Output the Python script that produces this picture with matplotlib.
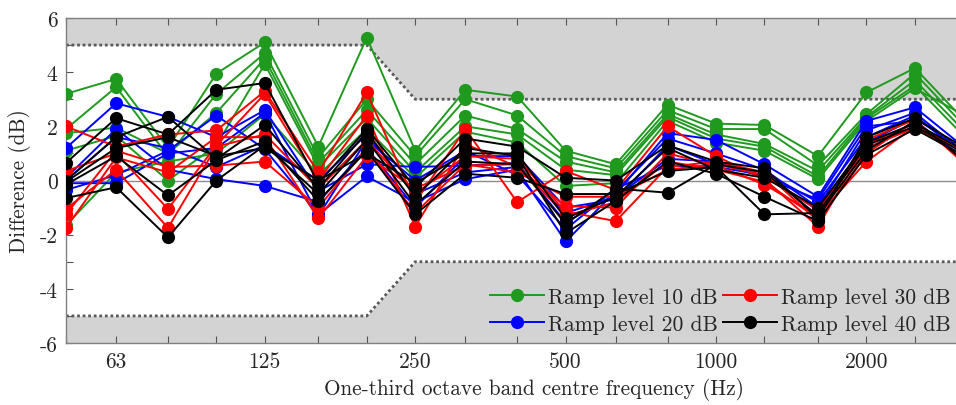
import numpy as np
import matplotlib
matplotlib.use("Agg")
import matplotlib.pyplot as plt

plt.rcParams["font.family"] = ["cmr10", "DejaVu Serif"]
plt.rcParams["mathtext.fontset"] = "cm"
plt.rcParams["axes.unicode_minus"] = False
plt.rcParams["axes.formatter.use_mathtext"] = True

# One-third octave band centre frequencies (Hz)
freqs = [50, 63, 80, 100, 125, 160, 200, 250, 315, 400, 500, 630, 800,
         1000, 1250, 1600, 2000, 2500, 3150]
tick_labels = {63: "63", 125: "125", 250: "250", 500: "500",
               1000: "1000", 2000: "2000"}

# Tolerance limits (dB)
limit_freqs = [50, 200, 250, 3150]
upper_limit = [5, 5, 3, 3]
lower_limit = [-5, -5, -3, -3]

# Level differences per repetition, ramp level 10 dB
ramp10 = [
    [3.2, 3.75, 1.2, 3.95, 5.1, 1.25, 5.28, 1.1, 3.35, 3.1, 1.1, 0.6, 2.8, 2.1, 2.05, 0.9, 3.25, 4.15, 2.2],
    [1.9, 3.45, 0.9, 3.2, 4.7, 0.85, 3.0, 0.9, 3.0, 2.4, 0.9, 0.45, 2.6, 1.9, 1.9, 0.55, 2.45, 3.95, 2.0],
    [1.75, 1.95, 1.0, 2.5, 4.5, 0.65, 2.6, 0.6, 2.4, 1.9, 0.7, 0.3, 2.45, 1.7, 1.35, 0.35, 2.35, 3.7, 1.8],
    [1.1, 1.65, 0.0, 1.3, 4.3, 0.5, 2.3, 0.3, 2.0, 1.7, 0.4, 0.2, 2.35, 1.55, 1.25, 0.15, 2.3, 3.5, 1.6],
    [-1.65, 0.3, 0.7, 1.0, 2.45, 0.2, 1.9, 0.1, 1.8, 1.4, -0.2, -0.1, 2.2, 1.4, 1.1, 0.05, 2.2, 3.4, 2.4],
]

# Ramp level 20 dB
ramp20 = [
    [1.2, 2.85, 2.35, 1.6, 2.6, -0.4, 0.6, 0.5, 0.55, 0.65, -1.55, -0.5, 1.75, 1.5, 0.6, -0.6, 2.2, 2.7, 1.2],
    [-0.35, 0.2, 1.1, 2.4, 1.15, -1.25, 0.15, -0.8, 0.05, 0.4, -2.25, -0.4, 1.55, 1.0, 0.4, -1.0, 1.85, 2.5, 1.0],
    [0.1, 1.9, 0.4, 0.05, -0.2, -0.8, 1.2, -1.0, 0.9, 0.9, -1.0, -0.7, 1.3, 0.6, 0.3, -0.8, 1.6, 2.4, 0.9],
    [-0.1, -0.1, 1.0, 1.2, 2.5, -1.3, 1.5, 0.0, 1.1, 0.2, -1.8, -0.3, 0.55, 0.5, 0.2, -1.1, 1.4, 2.3, 1.1],
    [0.0, 1.6, 1.2, 0.5, 1.3, 0.0, 1.7, -0.5, 0.3, 0.5, -1.2, -0.6, 0.8, 0.7, 0.1, -0.7, 2.0, 2.2, 0.8],
]

# Ramp level 30 dB
ramp30 = [
    [2.0, 1.25, 1.7, 1.85, 3.3, 0.3, 3.25, -0.8, 1.9, -0.8, 0.35, -0.35, 2.0, 0.9, 0.05, -1.7, 1.35, 2.1, 1.0],
    [0.35, 1.0, -1.05, 1.3, 3.2, 0.0, 2.4, -1.7, 1.35, 0.5, -0.95, -1.0, 1.0, 0.55, -0.15, -1.3, 0.7, 2.0, 0.8],
    [-1.05, 0.4, -1.75, 1.25, 1.7, -0.3, 1.5, -0.5, 0.9, 0.8, -1.15, -1.5, 0.5, 0.7, 0.3, -1.5, 1.0, 2.2, 0.7],
    [-1.25, 1.1, 0.5, 0.55, 0.7, -1.0, 1.2, -1.2, 0.6, 0.3, -0.6, -0.6, 0.4, 0.6, 0.2, -1.1, 1.2, 1.95, 1.1],
    [-1.75, 0.85, 0.3, 1.6, 1.6, -1.4, 0.9, -0.3, 0.55, 0.6, -1.3, -0.8, 0.7, 0.4, -0.05, -1.4, 1.5, 2.25, 0.6],
]

# Ramp level 40 dB
ramp40 = [
    [0.65, 2.3, 1.7, 3.35, 3.6, -0.1, 1.9, -0.25, 1.55, 1.25, 0.1, 0.0, 1.3, 0.7, 0.45, -1.4, 1.6, 2.3, 1.2],
    [0.0, 1.6, 2.35, 0.8, 2.05, -0.3, 1.8, -0.6, 1.2, 0.9, -1.95, -0.75, 0.7, 0.25, -0.6, -1.5, 0.95, 1.9, 0.9],
    [-0.15, 0.9, -0.55, 0.75, 1.45, -0.75, 1.1, -1.25, 0.25, 0.1, -0.5, -0.5, 0.35, 0.5, -1.25, -1.2, 1.3, 2.0, 1.0],
    [-0.65, -0.25, -2.1, 0.0, 1.3, -0.5, 1.5, -0.9, 0.7, 0.6, -1.6, -0.3, -0.45, 0.6, 0.3, -1.3, 1.1, 2.2, 0.7],
    [-0.05, 1.2, 1.6, 0.9, 1.2, 0.0, 1.0, -0.1, 1.0, 1.0, -1.4, -0.6, 1.2, 0.4, 0.1, -1.0, 1.4, 2.1, 1.1],
]

series = [
    ("Ramp level 10 dB", ramp10, "#1f9a1f"),
    ("Ramp level 20 dB", ramp20, "#0000ff"),
    ("Ramp level 30 dB", ramp30, "#ff0000"),
    ("Ramp level 40 dB", ramp40, "#000000"),
]

W, H = 956, 406
fig = plt.figure(figsize=(W / 100, H / 100), dpi=100)
ax = fig.add_axes([66 / W, 1 - 344 / H, 899 / W, 325 / H])

fill_col = "#d3d3d3"
ax.fill_between(limit_freqs, upper_limit, 6, color=fill_col, lw=0, zorder=0)
ax.fill_between(limit_freqs, -6, lower_limit, color=fill_col, lw=0, zorder=0)
ax.plot(limit_freqs, upper_limit, ls=(0, (1, 1)), color="#5a5a5a", lw=2, zorder=1)
ax.plot(limit_freqs, lower_limit, ls=(0, (1, 1)), color="#5a5a5a", lw=2, zorder=1)
ax.axhline(0, color="#8c8c8c", lw=1.0, zorder=1)

handles = []
for label, runs, col in series:
    for i, run in enumerate(runs):
        ln, = ax.plot(freqs, run, "-o", color=col, lw=1.4, ms=9.5,
                      markeredgewidth=0, zorder=3,
                      label=label if i == 0 else None)
        if i == 0:
            handles.append(ln)

ax.set_xscale("log")
ax.set_xlim(50, 3150)
ax.set_ylim(-6, 6)
ax.set_xticks(freqs)
ax.set_xticklabels([tick_labels.get(f, "") for f in freqs])
ax.xaxis.set_minor_locator(matplotlib.ticker.NullLocator())
ax.set_yticks(np.arange(-6, 7, 1))
ax.set_yticklabels([str(v) if v % 2 == 0 else "" for v in range(-6, 7)])

tick_col = "#262626"
ax.tick_params(axis="both", direction="in", length=5, width=0.8,
               colors="#555555", labelcolor=tick_col, labelsize=15.5,
               top=True, right=True, pad=6)
for sp in ax.spines.values():
    sp.set_color("#808080")
    sp.set_linewidth(1.0)

ax.set_xlabel("One-third octave band centre frequency (Hz)", fontsize=15.3,
              color=tick_col)
ax.xaxis.set_label_coords((534 - 66) / 899, -0.105)
ax.set_ylabel("Difference (dB)", fontsize=15.3, color=tick_col, labelpad=6)

leg = ax.legend(handles=handles, ncol=2, loc="lower left",
                bbox_to_anchor=(475 / W, 1 - 350 / H),
                bbox_transform=fig.transFigure, frameon=False,
                fontsize=15.5, handlelength=2.5, handletextpad=0.2,
                columnspacing=0.22, labelspacing=0.35, borderpad=0.2)
for t in leg.get_texts():
    t.set_color(tick_col)

fig.savefig("out.png", dpi=100)
